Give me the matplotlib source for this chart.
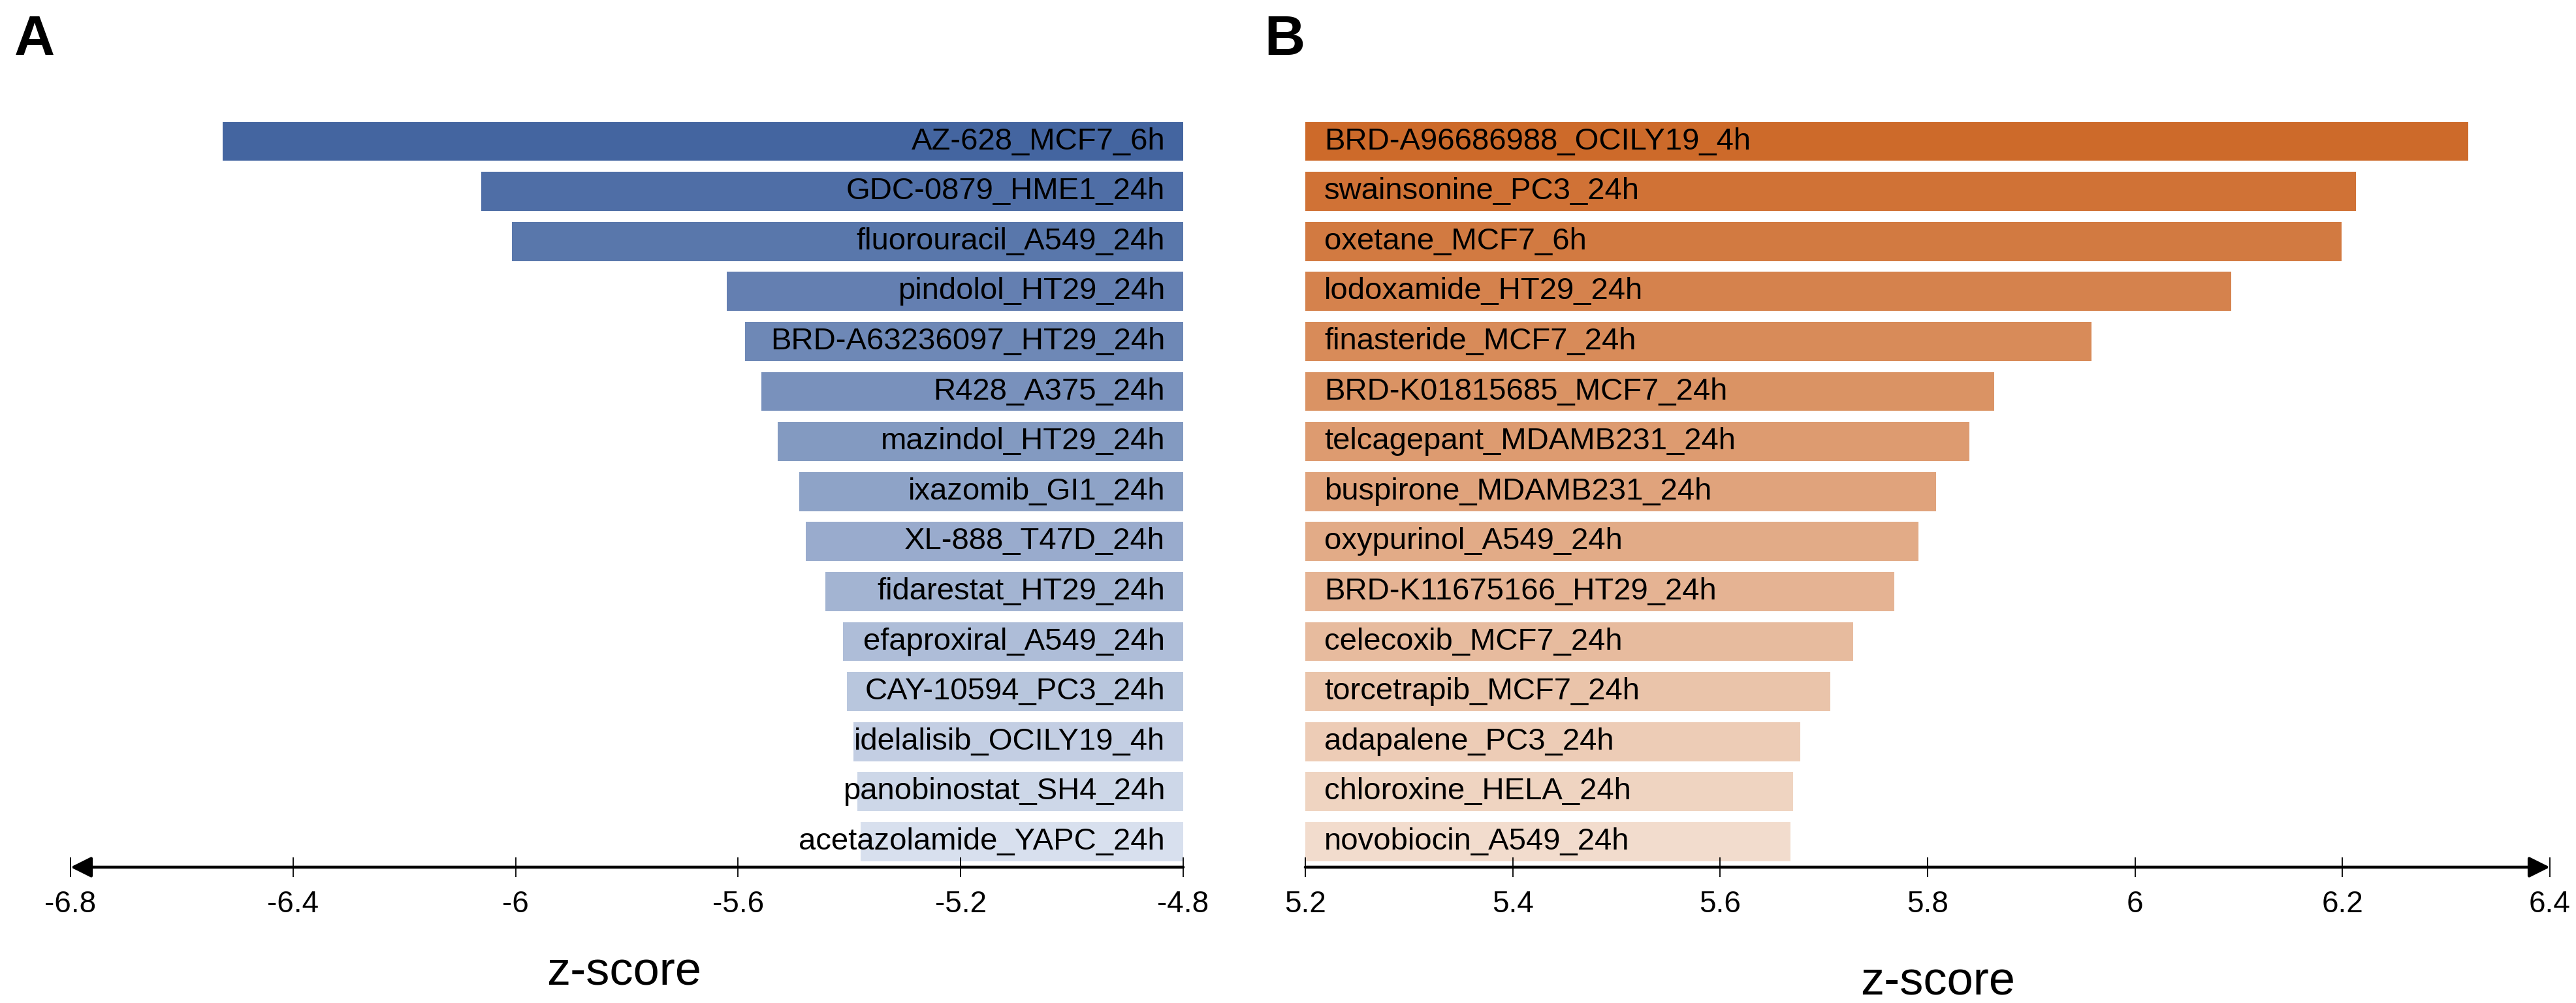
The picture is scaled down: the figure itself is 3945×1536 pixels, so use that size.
import matplotlib
matplotlib.use("Agg")
import matplotlib.pyplot as plt
import numpy as np
from matplotlib.colors import to_rgb

plt.rcParams['font.family'] = ['Liberation Sans', 'DejaVu Sans']

# ---- data ----
labels_a = ["AZ-628_MCF7_6h", "GDC-0879_HME1_24h", "fluorouracil_A549_24h", "pindolol_HT29_24h",
            "BRD-A63236097_HT29_24h", "R428_A375_24h", "mazindol_HT29_24h", "ixazomib_GI1_24h",
            "XL-888_T47D_24h", "fidarestat_HT29_24h", "efaproxiral_A549_24h", "CAY-10594_PC3_24h",
            "idelalisib_OCILY19_4h", "panobinostat_SH4_24h", "acetazolamide_YAPC_24h"]
values_a = [-6.527, -6.062, -6.007, -5.620, -5.587, -5.558, -5.529, -5.490,
            -5.478, -5.443, -5.412, -5.405, -5.393, -5.386, -5.380]

labels_b = ["BRD-A96686988_OCILY19_4h", "swainsonine_PC3_24h", "oxetane_MCF7_6h", "lodoxamide_HT29_24h",
            "finasteride_MCF7_24h", "BRD-K01815685_MCF7_24h", "telcagepant_MDAMB231_24h",
            "buspirone_MDAMB231_24h", "oxypurinol_A549_24h", "BRD-K11675166_HT29_24h",
            "celecoxib_MCF7_24h", "torcetrapib_MCF7_24h", "adapalene_PC3_24h",
            "chloroxine_HELA_24h", "novobiocin_A549_24h"]
values_b = [6.321, 6.213, 6.199, 6.093, 5.958, 5.864, 5.840, 5.808, 5.791, 5.768,
            5.728, 5.706, 5.677, 5.670, 5.668]

ticks_a = [-6.8, -6.4, -6.0, -5.6, -5.2, -4.8]
ticklabels_a = ["-6.8", "-6.4", "-6", "-5.6", "-5.2", "-4.8"]
ticks_b = [5.2, 5.4, 5.6, 5.8, 6.0, 6.2, 6.4]
ticklabels_b = ["5.2", "5.4", "5.6", "5.8", "6", "6.2", "6.4"]


def gradient(c1, c2, n):
    a, b = np.array(to_rgb(c1)), np.array(to_rgb(c2))
    return [tuple(a + (b - a) * t) for t in np.linspace(0, 1, n)]


W, H = 3945, 1536
fig = plt.figure(figsize=(W / 100, H / 100), dpi=100)

ax_bottom = 1 - 1328 / H
ax_h = (14.5 + 0.51) * 76.6 / H
axA = fig.add_axes([108 / W, ax_bottom, (1812 - 108) / W, ax_h])
axB = fig.add_axes([1999 / W, ax_bottom, (3905 - 1999) / W, ax_h])


def setup(ax, base, values, labels, colors, xlim, ticks, ticklabels, arrow_left):
    n = len(values)
    y = np.arange(n)[::-1]
    widths = [v - base for v in values]
    ax.barh(y, widths, left=base, height=0.78, color=colors, edgecolor='none')
    for yi, v, lab in zip(y, values, labels):
        if arrow_left:
            ax.annotate(lab, xy=(base, yi), xytext=(-20, 0), textcoords='offset points',
                        ha='right', va='center', fontsize=34, color='black')
        else:
            ax.annotate(lab, xy=(base, yi), xytext=(21, 0), textcoords='offset points',
                        ha='left', va='center', fontsize=34, color='black')
    ax.set_xlim(*xlim)
    ax.set_ylim(-0.51, 14.5)
    for s in ['top', 'right', 'left', 'bottom']:
        ax.spines[s].set_visible(False)
    ax.set_yticks([])
    ax.set_xticks(ticks)
    ax.set_xticklabels(ticklabels, fontsize=33)
    ax.tick_params(axis='x', direction='inout', length=21, width=1.3, pad=15)
    if arrow_left:
        ax.annotate('', xy=(0, 0), xytext=(1, 0), xycoords='axes fraction',
                    arrowprops=dict(arrowstyle='-|>', lw=3.3, color='black',
                                    mutation_scale=48, shrinkA=0, shrinkB=0))
    else:
        ax.annotate('', xy=(1, 0), xytext=(0, 0), xycoords='axes fraction',
                    arrowprops=dict(arrowstyle='-|>', lw=3.3, color='black',
                                    mutation_scale=48, shrinkA=0, shrinkB=0))


colA = gradient('#4465A0', '#D8E0EE', 15)
colB = gradient('#CD6A2A', '#F2DCCD', 15)

setup(axA, -4.8, values_a, labels_a, colA, (-6.8, -4.8), ticks_a, ticklabels_a, True)
setup(axB, 5.2, values_b, labels_b, colB, (5.2, 6.4), ticks_b, ticklabels_b, False)

fig.text(956 / W, 1 - 1490 / H, "z-score", fontsize=52, ha='center', va='center')
fig.text(2968 / W, 1 - 1505 / H, "z-score", fontsize=52, ha='center', va='center')

fig.text(22 / W, 1 - 62 / H, "A", fontsize=62, fontweight='bold', ha='left', va='center')
fig.text(1936 / W, 1 - 62 / H, "B", fontsize=62, fontweight='bold', ha='left', va='center')

fig.savefig("out.png", dpi=100, facecolor='white')
